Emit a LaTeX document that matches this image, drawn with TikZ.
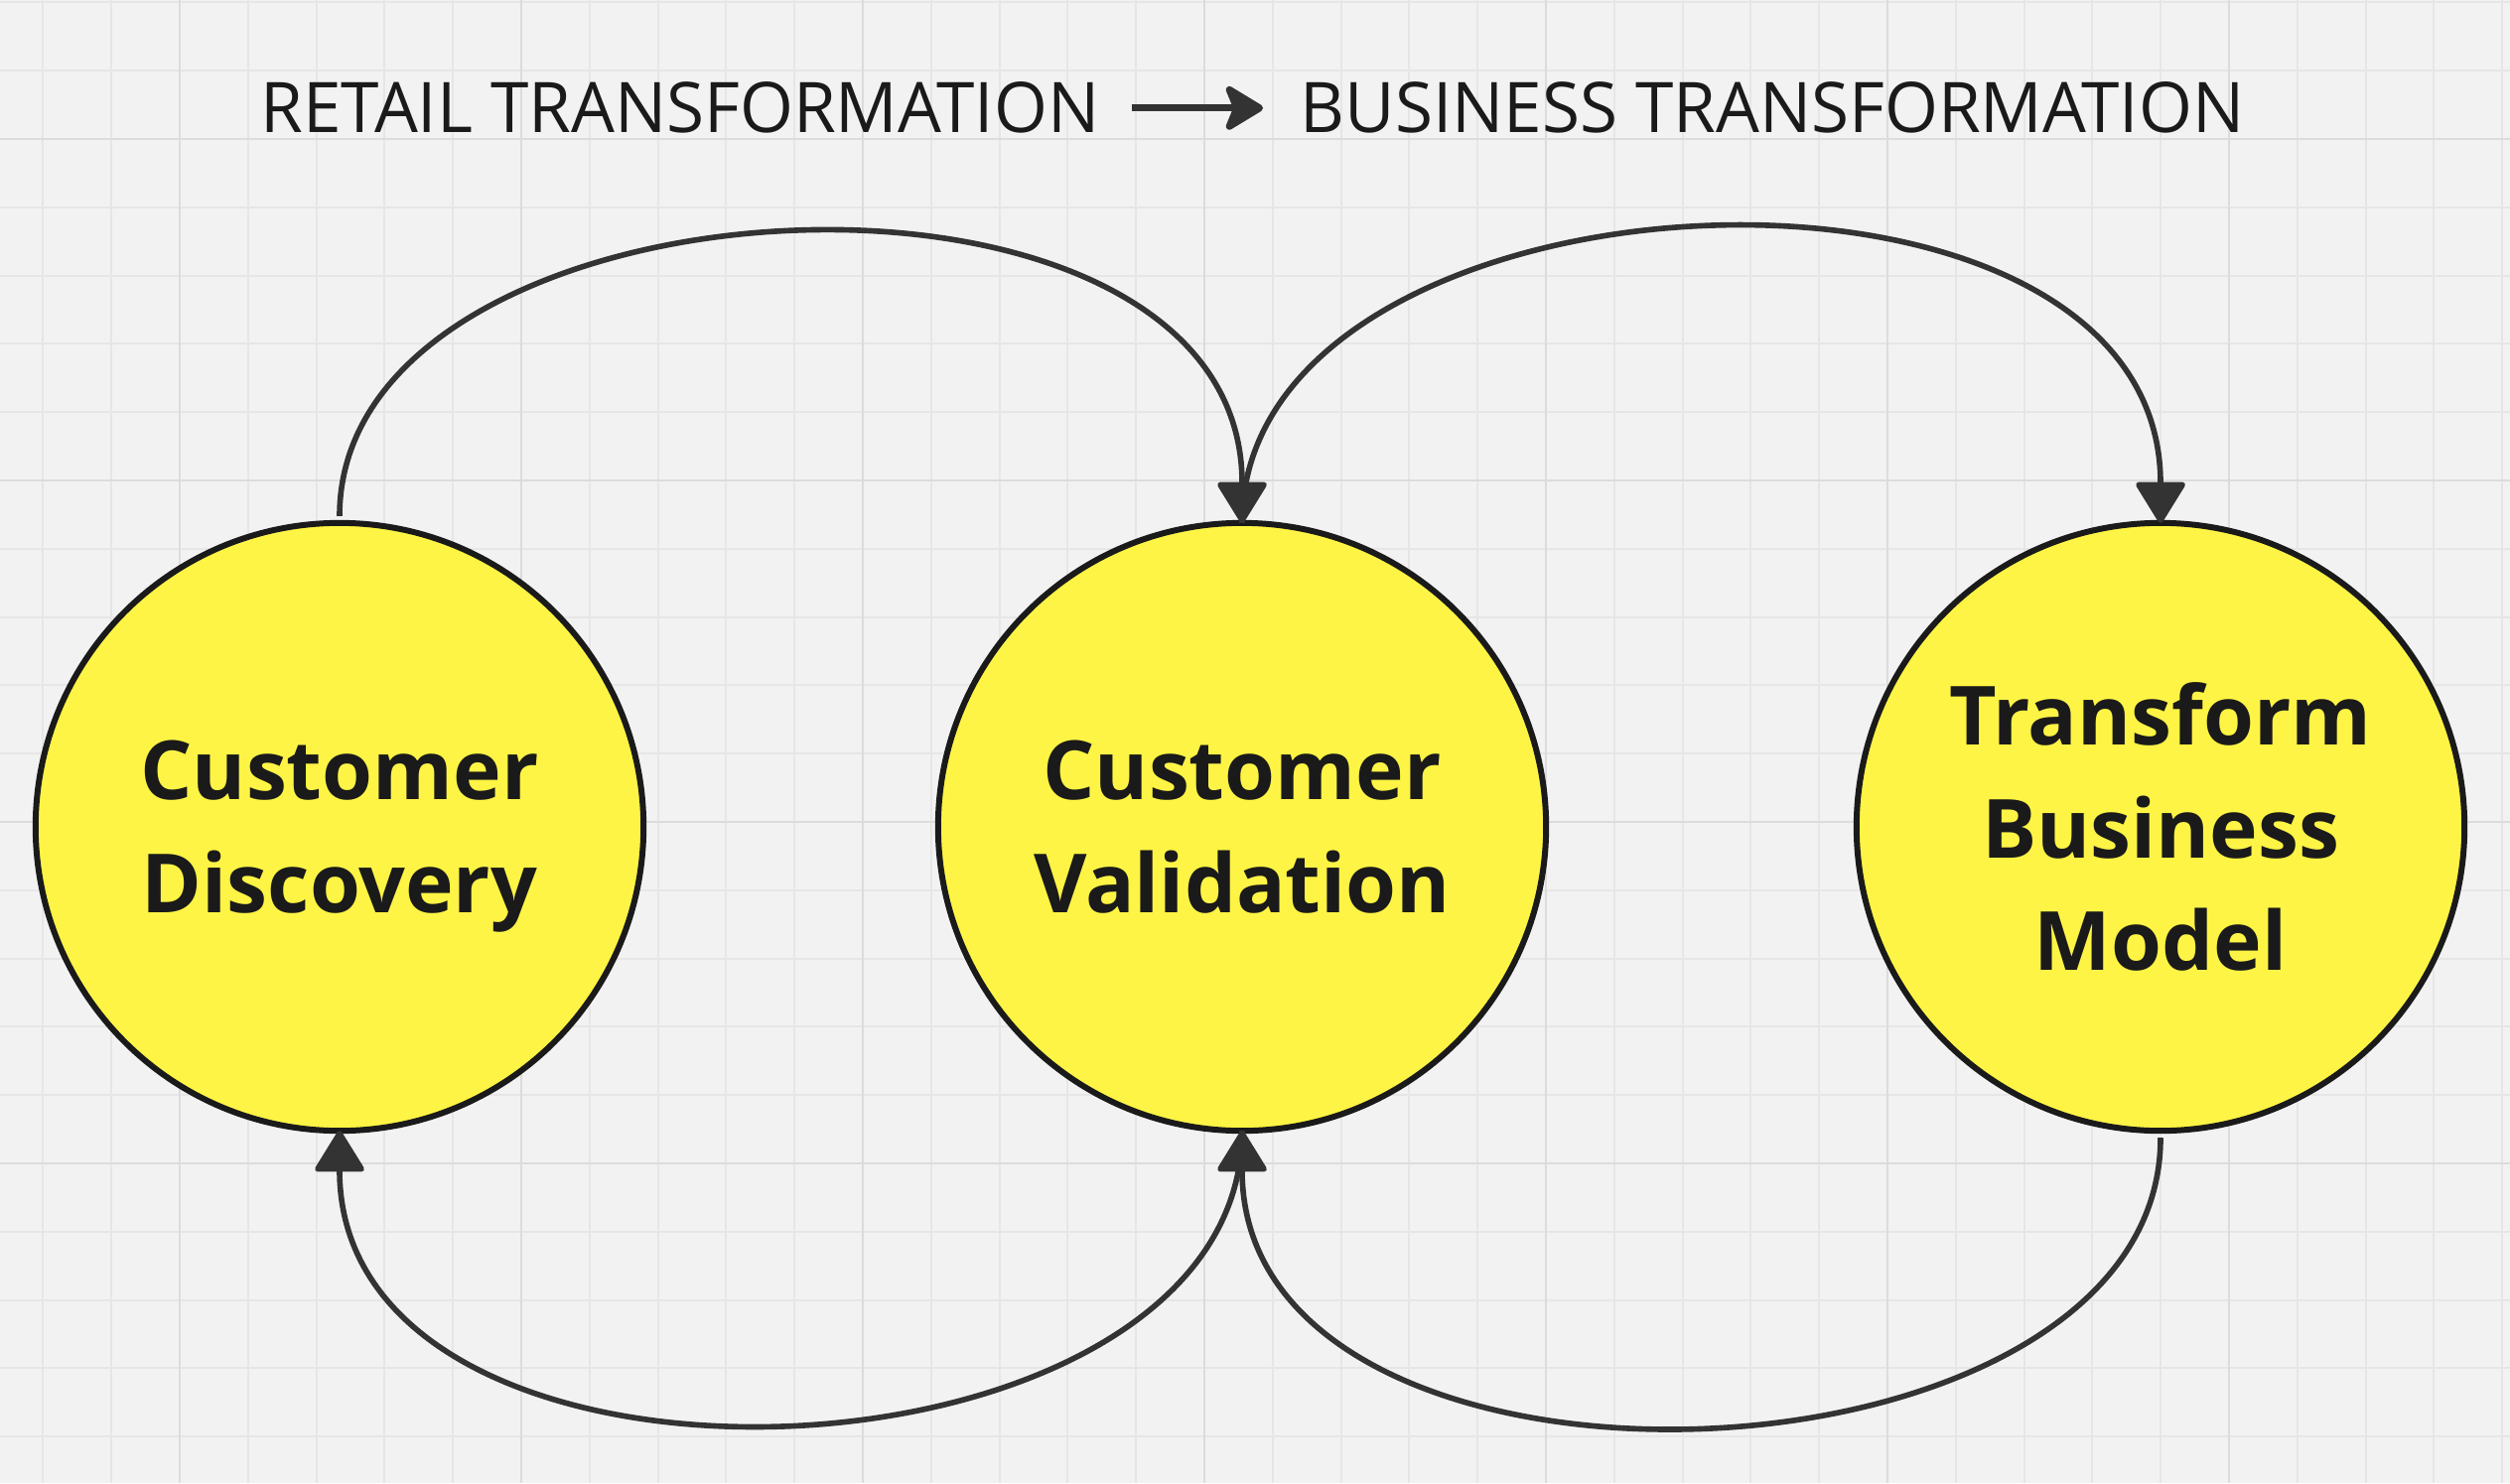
\documentclass[tikz,border=0pt]{standalone}
\usepackage{fontspec}
\usepackage{graphicx}
\setmainfont{Open Sans}
\usetikzlibrary{arrows.meta}
\definecolor{bg}{HTML}{F2F2F2}
\definecolor{gridminor}{HTML}{E6E6E6}
\definecolor{gridmajor}{HTML}{DCDCDC}
\definecolor{stickyyellow}{HTML}{FEF445}
\definecolor{inkdark}{HTML}{1A1A1A}
\definecolor{linkdark}{HTML}{333333}
\tikzset{
  bubble/.style={circle, draw=inkdark, line width=1.7pt, fill=stickyyellow,
    minimum size=6.12cm, inner sep=0pt, outer sep=0pt, align=center,
    text=inkdark, font=\fontsize{23.4}{32.2}\selectfont\bfseries},
  conn/.style={draw=linkdark, line width=1.6pt,
    -{Triangle[width=15pt,length=12.5pt,round]}},
  heading/.style={text=inkdark, font=\fontsize{20}{24}\selectfont, inner sep=0pt}
}
\begin{document}
\begin{tikzpicture}[x=0.01cm,y=-0.01cm]
\fill[bg] (0,0) rectangle (2528,1494);
\useasboundingbox (0,0) rectangle (2528,1494);
% grid
\foreach \i in {0,...,36} {
  \draw[gridminor, line width=0.6pt] ({43.4+68.8*\i},0) -- ({43.4+68.8*\i},1494);
}
\foreach \i in {0,...,21} {
  \draw[gridminor, line width=0.6pt] (0,{2.4+68.8*\i}) -- (2528,{2.4+68.8*\i});
}
\foreach \i in {0,...,7} {
  \draw[gridmajor, line width=0.8pt] ({181+344*\i},0) -- ({181+344*\i},1494);
}
\foreach \i in {0,...,4} {
  \draw[gridmajor, line width=0.8pt] (0,{140+344*\i}) -- (2528,{140+344*\i});
}
% title
\node[heading, anchor=base east] (t1) at (1108,134) {\scalebox{0.985}[1]{RETAIL TRANSFORMATION}};
\node[heading, anchor=base west] (t2) at (1309,134) {\scalebox{0.985}[1]{BUSINESS TRANSFORMATION}};
\draw[draw=linkdark, line width=2pt, -{Stealth[width=15pt,length=12.5pt,inset=3pt,round]},
  shorten <=9.1pt, shorten >=10.5pt] (t1.east) -- (t2.west);
% circles
\node[bubble] (cd) at (342,833) {Customer\\Discover\smash{y}};
\node[bubble] (cv) at (1251,833) {Customer\\Validation};
\node[bubble] (tbm) at (2176,833) {Transform\\Business\\Model};
% connectors
\draw[conn, shorten <=2pt] (cd.north) .. controls +(0,-362) and +(0,-408) .. (cv.north);
\draw[conn] (cv.north) .. controls +(0,-370) and +(0,-415) .. (tbm.north);
\draw[conn] (cv.south) .. controls +(0,370) and +(0,410) .. (cd.south);
\draw[conn, shorten <=2pt] (tbm.south) .. controls +(0,375) and +(0,410) .. (cv.south);
\end{tikzpicture}
\end{document}
